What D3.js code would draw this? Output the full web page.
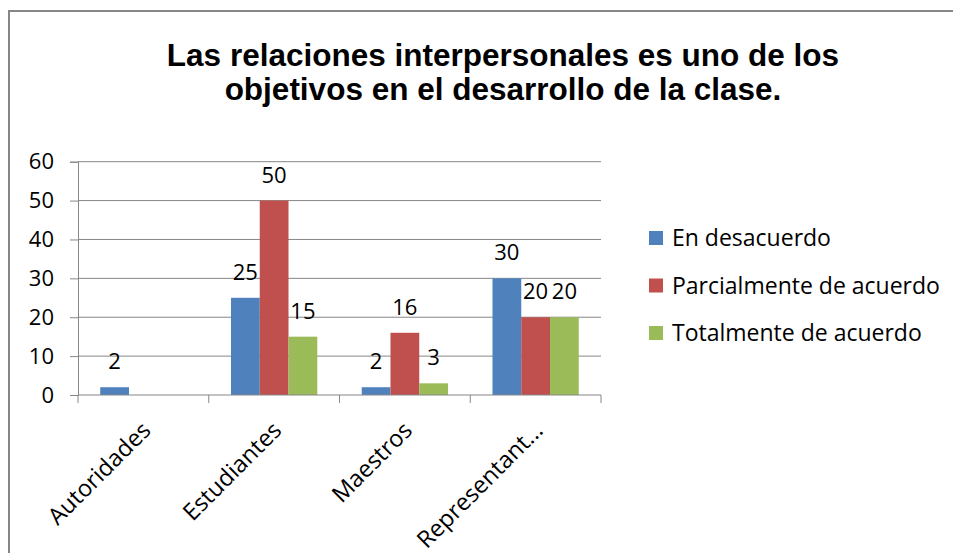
<!DOCTYPE html>
<html>
<head>
<meta charset="utf-8">
<script src="https://cdn.jsdelivr.net/npm/d3@7"></script>
<style>
  body { margin: 0; background: #fff; }
  text { font-family: "Open Sans", sans-serif; fill: #000; }
</style>
</head>
<body>
<div id="chart"></div>
<script>
const categories = ["Autoridades", "Estudiantes", "Maestros", "Representant..."];
const seriesNames = ["En desacuerdo", "Parcialmente de acuerdo", "Totalmente de acuerdo"];
const enDesacuerdo = [2, 25, 2, 30];
const parcialmente = [null, 50, 16, 20];
const totalmente = [null, 15, 3, 20];
const yTicks = [0, 10, 20, 30, 40, 50, 60];
const titleLines = ["Las relaciones interpersonales es uno de los", "objetivos en el desarrollo de la clase."];

const colors = ["#4F81BD", "#C0504D", "#9BBB59"];
const seriesValues = [enDesacuerdo, parcialmente, totalmente];

const W = 953, H = 553;
const svg = d3.select("#chart").append("svg")
  .attr("width", W)
  .attr("height", H);

// outer frame (only top and left edges show)
svg.append("rect")
  .attr("x", 9).attr("y", 11)
  .attr("width", 1000).attr("height", 600)
  .attr("fill", "none")
  .attr("stroke", "#868686")
  .attr("stroke-width", 2);

// title
svg.append("g").selectAll("text")
  .data(titleLines)
  .enter().append("text")
  .attr("x", 503)
  .attr("y", (d, i) => 66 + i * 34)
  .attr("text-anchor", "middle")
  .style("font-family", "'Liberation Sans', Arial, sans-serif")
  .style("font-weight", "bold")
  .style("font-size", "31.5px")
  .text(d => d);

const plotL = 78, plotR = 601, plotT = 161.7, plotB = 395;

const x0 = d3.scaleBand().domain(categories).range([plotL, plotR]);
const x1 = d3.scaleBand().domain(seriesNames)
  .range([x0.bandwidth() * 0.17, x0.bandwidth() * 0.83]);
const y = d3.scaleLinear().domain([0, 60]).range([plotB, plotT]);

// gridlines
svg.append("g").selectAll("line")
  .data(yTicks.filter(t => t > 0))
  .enter().append("line")
  .attr("x1", plotL).attr("x2", plotR)
  .attr("y1", d => y(d)).attr("y2", d => y(d))
  .attr("stroke", "#868686")
  .attr("stroke-width", 1);

// y axis
const yAxis = svg.append("g")
  .attr("transform", `translate(${plotL},0)`)
  .call(d3.axisLeft(y).tickValues(yTicks).tickSize(8).tickPadding(16));
yAxis.select(".domain").attr("stroke", "#868686");
yAxis.selectAll(".tick line").attr("stroke", "#868686");
yAxis.selectAll("text")
  .style("font-family", "'Open Sans', sans-serif")
  .style("font-size", "22px")
  .attr("fill", "#000");

// bars
const groups = svg.append("g").selectAll("g")
  .data(categories)
  .enter().append("g")
  .attr("transform", d => `translate(${x0(d)},0)`);

const bars = groups.selectAll("rect")
  .data((c, ci) => seriesNames.map((s, si) => ({ s, si, v: seriesValues[si][ci] })).filter(d => d.v != null))
  .enter();

bars.append("rect")
  .attr("x", d => x1(d.s))
  .attr("width", x1.bandwidth())
  .attr("y", d => y(d.v))
  .attr("height", d => y(0) - y(d.v))
  .attr("fill", d => colors[d.si]);

bars.append("text")
  .attr("x", d => x1(d.s) + x1.bandwidth() / 2)
  .attr("y", d => y(d.v) - 18)
  .attr("text-anchor", "middle")
  .style("font-size", "22px")
  .text(d => d.v);

// x axis
const xAxis = svg.append("g")
  .attr("transform", `translate(0,${plotB})`);
xAxis.append("line")
  .attr("x1", plotL).attr("x2", plotR)
  .attr("stroke", "#868686");
xAxis.selectAll(".tk")
  .data(categories.map(c => x0(c)).concat([plotR]))
  .enter().append("line")
  .attr("x1", d => d).attr("x2", d => d)
  .attr("y1", 0).attr("y2", 8)
  .attr("stroke", "#868686");
xAxis.selectAll(".lbl")
  .data(categories)
  .enter().append("text")
  .attr("transform", d => `translate(${x0(d) + x0.bandwidth() / 2 + 3},${31}) rotate(-45)`)
  .attr("text-anchor", "end")
  .attr("dy", "0.35em")
  .style("font-size", "23.5px")
  .text(d => d);

// legend
const legend = svg.append("g").selectAll("g")
  .data(seriesNames)
  .enter().append("g")
  .attr("transform", (d, i) => `translate(649,${238 + i * 47.5})`);
legend.append("rect")
  .attr("x", 0).attr("y", -7)
  .attr("width", 14).attr("height", 14)
  .attr("fill", (d, i) => colors[i]);
legend.append("text")
  .attr("x", 23)
  .attr("dy", "0.35em")
  .style("font-size", "23px")
  .text(d => d);
</script>
</body>
</html>
